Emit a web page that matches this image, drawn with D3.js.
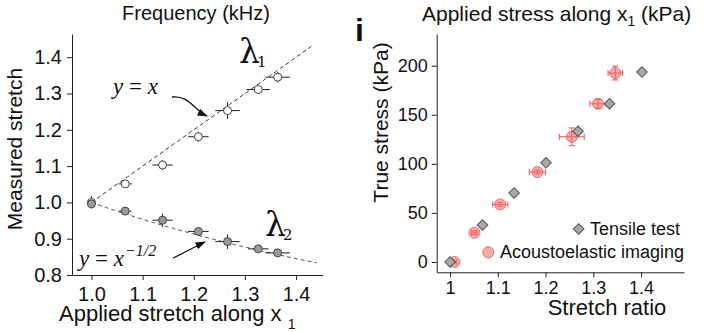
<!DOCTYPE html>
<html>
<head>
<meta charset="utf-8">
<script src="https://cdn.jsdelivr.net/npm/d3@7"></script>
<style>
  body { margin: 0; background: #fff; }
  text { font-family: "Liberation Sans", Arial, sans-serif; fill: #111; }
  .math { font-family: "Liberation Serif", "DejaVu Serif", serif; }
  .greek { font-family: "DejaVu Serif", serif; }
</style>
</head>
<body>
<div id="chart"></div>
<script>
// left panel: measured vs applied stretch
const appliedStretch = [1.0, 1.066, 1.139, 1.209, 1.266, 1.326, 1.364];
const stretchErr1 = [0, 0.013, 0.02, 0.02, 0.024, 0.023, 0.024];
const stretchErr2 = [0, 0.012, 0.02, 0.02, 0.024, 0.02, 0.024];
const lambda1 = [1.0, 1.051, 1.103, 1.181, 1.253, 1.311, 1.345];
const lambda1Err = [0.017, 0.005, 0.014, 0.014, 0.023, 0.011, 0.014];
const lambda2 = [0.996, 0.976, 0.951, 0.920, 0.892, 0.872, 0.861];
const lambda2Err = [0.005, 0.005, 0.018, 0.006, 0.02, 0.008, 0.006];
const leftXTicks = [1.0, 1.1, 1.2, 1.3, 1.4];
const leftYTicks = [0.8, 0.9, 1.0, 1.1, 1.2, 1.3, 1.4];

// right panel: true stress vs stretch ratio
const tensileStretch = [1.0, 1.068, 1.134, 1.201, 1.268, 1.334, 1.402];
const tensileStress = [0, 37.7, 70.3, 101, 133.2, 161.2, 193.5];
const acousticStretch = [1.009, 1.051, 1.105, 1.183, 1.255, 1.31, 1.346];
const acousticStretchErr = [0.004, 0.006, 0.016, 0.017, 0.026, 0.017, 0.015];
const acousticStress = [0, 29.9, 58.7, 91.6, 127.6, 161.2, 192.5];
const acousticStressErr = [1, 2, 2, 2, 9, 4.5, 7];
const rightXTicks = [1, 1.1, 1.2, 1.3, 1.4];
const rightYTicks = [0, 50, 100, 150, 200];

const width = 720, height = 332;

const svg = d3.select("#chart").append("svg")
  .attr("width", width)
  .attr("height", height);

// ---------- left panel ----------
let x1 = d3.scaleLinear().domain([0.962, 1.452]).range([72, 322.7]);
let y1 = d3.scaleLinear().domain([0.8, 1.464]).range([275, 34]);

let gl = svg.append("g");

gl.append("g")
  .attr("transform", "translate(0,275)")
  .call(d3.axisBottom(x1).tickValues(leftXTicks).tickFormat(d3.format(".1f")).tickSize(5).tickSizeOuter(0).tickPadding(7))
  .call(g => g.selectAll("text").style("font-size", "20px"));

gl.append("g")
  .attr("transform", "translate(72,0)")
  .call(d3.axisLeft(y1).tickValues(leftYTicks).tickFormat(d3.format(".1f")).tickSize(5).tickSizeOuter(0).tickPadding(5))
  .call(g => g.selectAll("text").style("font-size", "20px"));

gl.selectAll(".domain, .tick line").attr("stroke", "#222");

// model curves y = x and y = x^-1/2
let curveX = d3.range(1.0, 1.4401, 0.01);
let line = d3.line().x(d => x1(d[0])).y(d => y1(d[1]));

gl.append("path")
  .attr("d", line(curveX.filter(v => v <= 1.43).map(v => [v, v])))
  .attr("fill", "none").attr("stroke", "#333").attr("stroke-width", 1)
  .attr("stroke-dasharray", "4,3");

gl.append("path")
  .attr("d", line(curveX.map(v => [v, Math.pow(v, -0.5)])))
  .attr("fill", "none").attr("stroke", "#555").attr("stroke-width", 1)
  .attr("stroke-dasharray", "4,3");

function drawStretchSeries(vals, yErr, xErr, fill) {
  let pts = appliedStretch.map((s, i) => ({ x: s, y: vals[i], ex: xErr[i], ey: yErr[i] }));
  let g = gl.append("g");
  g.selectAll(".hbar").data(pts).join("line")
    .attr("x1", d => x1(d.x - d.ex)).attr("x2", d => x1(d.x + d.ex))
    .attr("y1", d => y1(d.y)).attr("y2", d => y1(d.y))
    .attr("stroke", "#222").attr("stroke-width", 1);
  g.selectAll(".vbar").data(pts).join("line")
    .attr("x1", d => x1(d.x)).attr("x2", d => x1(d.x))
    .attr("y1", d => y1(d.y - d.ey)).attr("y2", d => y1(d.y + d.ey))
    .attr("stroke", "#222").attr("stroke-width", 1);
  g.selectAll("circle").data(pts).join("circle")
    .attr("cx", d => x1(d.x)).attr("cy", d => y1(d.y))
    .attr("r", 4)
    .attr("fill", fill)
    .attr("stroke", "#444").attr("stroke-width", 1);
}
drawStretchSeries(lambda1, lambda1Err, stretchErr1, "#fff");
drawStretchSeries(lambda2, lambda2Err, stretchErr2, "#9a9a9a");

// labels
svg.append("text").attr("x", 196).attr("y", 20).attr("text-anchor", "middle")
  .style("font-size", "20px").text("Frequency (kHz)");

let xl = svg.append("text").attr("x", 59).attr("y", 321).style("font-size", "22px");
xl.append("tspan").text("Applied stretch along x ");
xl.append("tspan").attr("dy", 8).style("font-size", "14px").text("1");

svg.append("text").attr("transform", "translate(22,149) rotate(-90)")
  .attr("text-anchor", "middle").style("font-size", "21px").text("Measured stretch");

// lambda labels
function lambdaLabel(x, y, sub) {
  let t = svg.append("text").attr("class", "greek").attr("x", x).attr("y", y).style("font-size", "33px");
  t.append("tspan").text("λ");
  t.append("tspan").attr("dy", 4).attr("dx", -3).style("font-size", "15px").text(sub);
}
lambdaLabel(239, 63, "1");
lambdaLabel(265, 236, "2");

let eq1 = svg.append("text").attr("class", "math").attr("x", 113).attr("y", 94).style("font-size", "23px");
eq1.append("tspan").style("font-style", "italic").text("y");
eq1.append("tspan").text(" = ");
eq1.append("tspan").style("font-style", "italic").text("x");

let eq2 = svg.append("text").attr("class", "math").attr("x", 79).attr("y", 266).style("font-size", "23px");
eq2.append("tspan").style("font-style", "italic").text("y");
eq2.append("tspan").text(" = ");
eq2.append("tspan").style("font-style", "italic").text("x");
eq2.append("tspan").attr("dy", -10).attr("dx", 1).style("font-size", "16px").style("font-style", "italic").text("−1/2");

// arrows
svg.append("defs").append("marker")
  .attr("id", "head").attr("viewBox", "0 0 10 10")
  .attr("refX", 9).attr("refY", 5)
  .attr("markerWidth", 8).attr("markerHeight", 8)
  .attr("orient", "auto")
  .append("path").attr("d", "M0,1.5L10,5L0,8.5Z").attr("fill", "#111");

svg.append("path").attr("d", "M172,97 C189,95 194,110 207,116")
  .attr("fill", "none").attr("stroke", "#111").attr("stroke-width", 1.3)
  .attr("marker-end", "url(#head)");
svg.append("path").attr("d", "M173,258 C184,253 194,247 205,242")
  .attr("fill", "none").attr("stroke", "#111").attr("stroke-width", 1.3)
  .attr("marker-end", "url(#head)");

// ---------- right panel ----------
let x2 = d3.scaleLinear().domain([0.972, 1.49]).range([436.7, 684]);
let y2 = d3.scaleLinear().domain([-10.5, 232.3]).range([272.3, 34]);

let gr = svg.append("g");

gr.append("g")
  .attr("transform", "translate(0,272.3)")
  .call(d3.axisBottom(x2).tickValues(rightXTicks).tickFormat(d3.format("~g")).tickSize(5).tickSizeOuter(0).tickPadding(4))
  .call(g => g.selectAll("text").style("font-size", "18px"));

gr.append("g")
  .attr("transform", "translate(436.7,0)")
  .call(d3.axisLeft(y2).tickValues(rightYTicks).tickSize(5).tickSizeOuter(0).tickPadding(4))
  .call(g => g.selectAll("text").style("font-size", "18px"));

gr.selectAll(".domain, .tick line").attr("stroke", "#222");

let acoustic = acousticStretch.map((s, i) => ({ x: s, y: acousticStress[i], ex: acousticStretchErr[i], ey: acousticStressErr[i] }));
let tensile = tensileStretch.map((s, i) => ({ x: s, y: tensileStress[i] }));

let red = "#ee6b6b";
gr.append("g").selectAll("circle").data(acoustic).join("circle")
  .attr("cx", d => x2(d.x)).attr("cy", d => y2(d.y)).attr("r", 5.5)
  .attr("fill", "#f08a8a").attr("fill-opacity", 0.7)
  .attr("stroke", red).attr("stroke-width", 1);

let eb = gr.append("g").attr("stroke", red).attr("stroke-width", 1.2);
acoustic.forEach(d => {
  let cx = x2(d.x), cy = y2(d.y);
  eb.append("line").attr("x1", x2(d.x - d.ex)).attr("x2", x2(d.x + d.ex)).attr("y1", cy).attr("y2", cy);
  eb.append("line").attr("x1", cx).attr("x2", cx).attr("y1", y2(d.y - d.ey)).attr("y2", y2(d.y + d.ey));
  eb.append("line").attr("x1", x2(d.x - d.ex)).attr("x2", x2(d.x - d.ex)).attr("y1", cy - 3).attr("y2", cy + 3);
  eb.append("line").attr("x1", x2(d.x + d.ex)).attr("x2", x2(d.x + d.ex)).attr("y1", cy - 3).attr("y2", cy + 3);
  eb.append("line").attr("x1", cx - 3).attr("x2", cx + 3).attr("y1", y2(d.y - d.ey)).attr("y2", y2(d.y - d.ey));
  eb.append("line").attr("x1", cx - 3).attr("x2", cx + 3).attr("y1", y2(d.y + d.ey)).attr("y2", y2(d.y + d.ey));
});

let diamond = d3.symbol().type(d3.symbolSquare).size(56);
gr.append("g").selectAll("path").data(tensile).join("path")
  .attr("d", diamond)
  .attr("transform", d => `translate(${x2(d.x)},${y2(d.y)}) rotate(45)`)
  .attr("fill", "#a8a8a8").attr("stroke", "#555").attr("stroke-width", 1);

// legend
gr.append("path").attr("d", diamond).attr("transform", "translate(578.7,229) rotate(45)")
  .attr("fill", "#a8a8a8").attr("stroke", "#555");
gr.append("text").attr("x", 590).attr("y", 235).style("font-size", "18px").text("Tensile test");
gr.append("circle").attr("cx", 488.3).attr("cy", 252.3).attr("r", 5.5)
  .attr("fill", "#f08a8a").attr("fill-opacity", 0.7).attr("stroke", red);
gr.append("text").attr("x", 500).attr("y", 258).style("font-size", "18px").text("Acoustoelastic imaging");

// right labels
let tt = svg.append("text").attr("x", 422).attr("y", 21).style("font-size", "21px");
tt.append("tspan").text("Applied stress along x");
tt.append("tspan").attr("dy", 5).style("font-size", "14px").text("1");
tt.append("tspan").attr("dy", -5).text(" (kPa)");

svg.append("text").attr("x", 607).attr("y", 315).attr("text-anchor", "middle")
  .style("font-size", "22px").text("Stretch ratio");

svg.append("text").attr("transform", "translate(388,122.5) rotate(-90)")
  .attr("text-anchor", "middle").style("font-size", "21px").text("True stress (kPa)");

svg.append("text").attr("x", 355).attr("y", 41)
  .style("font-size", "32px").style("font-weight", "bold").text("i");
</script>
</body>
</html>
